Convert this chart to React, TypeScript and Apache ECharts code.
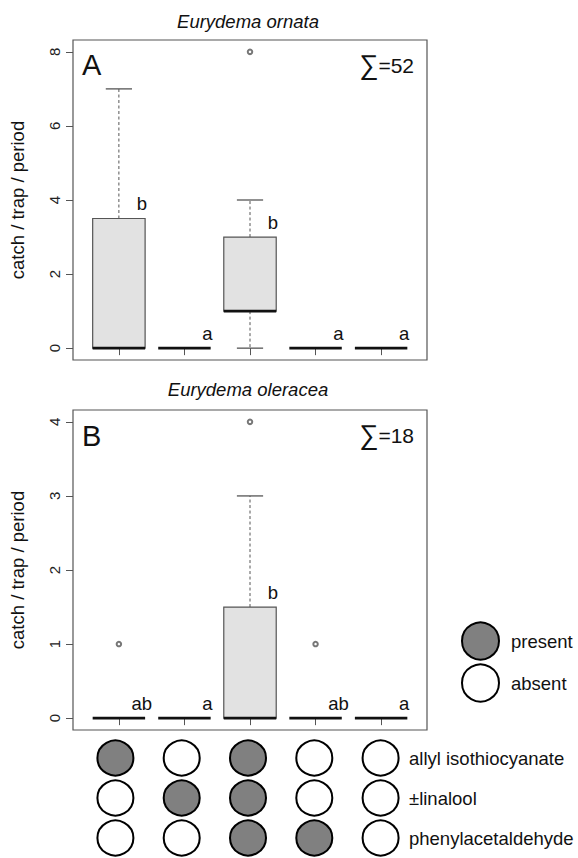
import React, { useEffect, useRef } from "react";
import * as echarts from "echarts";

// ---- data ----
const positions = [1, 2, 3, 4, 5];
// five-number summaries per treatment: [min, q1, median, q3, max]
const statsA = [
  [0, 0, 0, 3.5, 7],
  [0, 0, 0, 0, 0],
  [0, 1, 1, 3, 4],
  [0, 0, 0, 0, 0],
  [0, 0, 0, 0, 0],
];
const outliersA = [[3, 8]];
const lettersA = ["b", "a", "b", "a", "a"];
const totalA = "∑=52";

const statsB = [
  [0, 0, 0, 0, 0],
  [0, 0, 0, 0, 0],
  [0, 0, 0, 1.5, 3],
  [0, 0, 0, 0, 0],
  [0, 0, 0, 0, 0],
];
const outliersB = [[1, 1], [3, 4], [4, 1]];
const lettersB = ["ab", "a", "b", "ab", "a"];
const totalB = "∑=18";

const yTicksA = [0, 2, 4, 6, 8];
const yTicksB = [0, 1, 2, 3, 4];

const compounds = ["allyl isothiocyanate", "±linalool", "phenylacetaldehyde"];
// presence[row][treatment]
const presence = [
  [1, 0, 1, 0, 0],
  [0, 1, 1, 0, 0],
  [0, 0, 1, 1, 0],
];

const FONT = "'Liberation Sans', Arial, Helvetica, sans-serif";
const FS = 18.5;

function boxRender(letters: string[]) {
  return (params: any, api: any) => {
    const x = api.value(0);
    const mn = api.value(1), q1 = api.value(2), md = api.value(3), q3 = api.value(4), mx = api.value(5);
    const halfW = api.size([0.4, 0])[0];
    const cap = halfW / 2;
    const [cx, yq3] = api.coord([x, q3]);
    const yq1 = api.coord([x, q1])[1];
    const ymd = api.coord([x, md])[1];
    const ymn = api.coord([x, mn])[1];
    const ymx = api.coord([x, mx])[1];
    const gray = "#555";
    const children: any[] = [];
    if (mx > q3) {
      children.push({ type: "line", shape: { x1: cx, y1: yq3, x2: cx, y2: ymx }, style: { stroke: gray, lineWidth: 1, lineDash: [3, 2.5] } });
      children.push({ type: "line", shape: { x1: cx - cap, y1: ymx, x2: cx + cap, y2: ymx }, style: { stroke: gray, lineWidth: 1.3 } });
    }
    if (mn < q1) {
      children.push({ type: "line", shape: { x1: cx, y1: yq1, x2: cx, y2: ymn }, style: { stroke: gray, lineWidth: 1, lineDash: [3, 2.5] } });
      children.push({ type: "line", shape: { x1: cx - cap, y1: ymn, x2: cx + cap, y2: ymn }, style: { stroke: gray, lineWidth: 1.3 } });
    }
    if (q3 > q1) {
      children.push({ type: "rect", shape: { x: cx - halfW, y: yq3, width: 2 * halfW, height: yq1 - yq3 }, style: { fill: "#e2e2e2", stroke: gray, lineWidth: 1.2 } });
    }
    children.push({ type: "line", shape: { x1: cx - halfW, y1: ymd, x2: cx + halfW, y2: ymd }, style: { stroke: "#111", lineWidth: 2.8 } });
    const lx = cx + api.size([0.35, 0])[0];
    children.push({
      type: "text",
      x: lx,
      y: yq3 - 15,
      style: { text: letters[params.dataIndex], fill: "#111", font: `${FS}px ${FONT}`, align: "center", verticalAlign: "middle", textAlign: "center", textVerticalAlign: "middle" },
    });
    return { type: "group", children };
  };
}

function plotAxes(gi: number, min: number, max: number, ticks: number[]) {
  const x = {
    type: "value", gridIndex: gi, min: 0.3, max: 5.7,
    axisLine: { show: false }, splitLine: { show: false },
    axisTick: { show: true, length: 7, lineStyle: { color: "#555" }, customValues: positions },
    axisLabel: { show: false, customValues: positions },
  };
  const y = {
    type: "value", gridIndex: gi, min, max,
    axisLine: { show: false }, splitLine: { show: false },
    axisTick: { show: true, length: 7, lineStyle: { color: "#555" }, customValues: ticks },
    axisLabel: { show: true, customValues: ticks, rotate: 90, fontSize: 15, color: "#222", margin: 11, fontFamily: FONT },
    name: "catch / trap / period", nameLocation: "middle", nameGap: 46, nameRotate: 90,
    nameTextStyle: { fontSize: FS, color: "#111", fontFamily: FONT },
  };
  return { x, y };
}

export default function App() {
  const ref = useRef<HTMLDivElement>(null);
  useEffect(() => {
    if (!ref.current) return;
    const chart = echarts.init(ref.current, undefined, { renderer: "svg" });
    const a = plotAxes(0, -0.32, 8.32, yTicksA);
    const b = plotAxes(1, -0.16, 4.16, yTicksB);
    const presentData: any[] = [];
    const absentData: any[] = [];
    presence.forEach((row, r) => row.forEach((v, c) => (v ? presentData : absentData).push([positions[c], compounds[r]])));
    const ts = (size: number, align = "left", italic = false) => ({ fill: "#111", font: `${italic ? "italic " : ""}${size}px ${FONT}`, align, verticalAlign: "middle", textAlign: align, textVerticalAlign: "middle" });
    const sumStyle = (t: string) => ({
      ...ts(21, "right"),
      text: t.replace("∑", "{s|∑}"),
      rich: { s: { fontSize: 27, fontFamily: FONT, fill: "#111", color: "#111", verticalAlign: "middle" } },
    });
    chart.setOption({
      animation: false,
      backgroundColor: "#fff",
      textStyle: { fontFamily: FONT },
      grid: [
        { left: 69, top: 40, width: 358, height: 320, show: true, borderColor: "#555", borderWidth: 1.2 },
        { left: 69, top: 410, width: 358, height: 320, show: true, borderColor: "#555", borderWidth: 1.2 },
        { left: 69, top: 738, width: 332, height: 120 },
      ],
      xAxis: [a.x, b.x, { type: "value", gridIndex: 2, min: 0.3, max: 0.3 + 332 / (358 / 5.4), show: false }],
      yAxis: [a.y, b.y, {
        type: "category", gridIndex: 2, data: compounds, inverse: true, position: "right",
        axisLine: { show: false }, axisTick: { show: false }, splitLine: { show: false },
        axisLabel: { fontSize: FS, color: "#111", margin: 8, fontFamily: FONT },
      }],
      legend: {
        data: ["present", "absent"], orient: "vertical", left: 461, top: 621.5,
        itemWidth: 37, itemHeight: 37, itemGap: 3, padding: 0,
        textStyle: { fontSize: FS, color: "#111", fontFamily: FONT, padding: [0, 0, 0, 7] },
      },
      graphic: [
        { type: "text", x: 248, y: 21, style: { ...ts(FS, "center", true), text: "Eurydema ornata" } },
        { type: "text", x: 248, y: 389, style: { ...ts(FS, "center", true), text: "Eurydema oleracea" } },
        { type: "text", x: 82, y: 65, style: { ...ts(29), text: "A" } },
        { type: "text", x: 82, y: 436, style: { ...ts(29), text: "B" } },
        { type: "text", x: 414, y: 65, style: sumStyle(totalA) },
        { type: "text", x: 414, y: 435, style: sumStyle(totalB) },
      ],
      series: [
        {
          type: "custom", xAxisIndex: 0, yAxisIndex: 0, renderItem: boxRender(lettersA),
          data: statsA.map((s, i) => [positions[i], ...s]),
        },
        {
          type: "scatter", xAxisIndex: 0, yAxisIndex: 0, data: outliersA, symbol: "emptyCircle", symbolSize: 4.5,
          itemStyle: { color: "#555", borderWidth: 1 },
        },
        {
          type: "custom", xAxisIndex: 1, yAxisIndex: 1, renderItem: boxRender(lettersB),
          data: statsB.map((s, i) => [positions[i], ...s]),
        },
        {
          type: "scatter", xAxisIndex: 1, yAxisIndex: 1, data: outliersB, symbol: "emptyCircle", symbolSize: 4.5,
          itemStyle: { color: "#555", borderWidth: 1 },
        },
        {
          name: "present", type: "scatter", xAxisIndex: 2, yAxisIndex: 2, data: presentData, symbol: "circle", symbolSize: [36, 35],
          itemStyle: { color: "#808080", borderColor: "#000", borderWidth: 2, opacity: 1 },
        },
        {
          name: "absent", type: "scatter", xAxisIndex: 2, yAxisIndex: 2, data: absentData, symbol: "circle", symbolSize: [36, 35],
          itemStyle: { color: "#ffffff", borderColor: "#000", borderWidth: 2, opacity: 1 },
        },
      ],
    });
    return () => chart.dispose();
  }, []);
  return <div ref={ref} style={{ position: "absolute", left: 0, top: 0, width: 578, height: 858 }} />;
}
